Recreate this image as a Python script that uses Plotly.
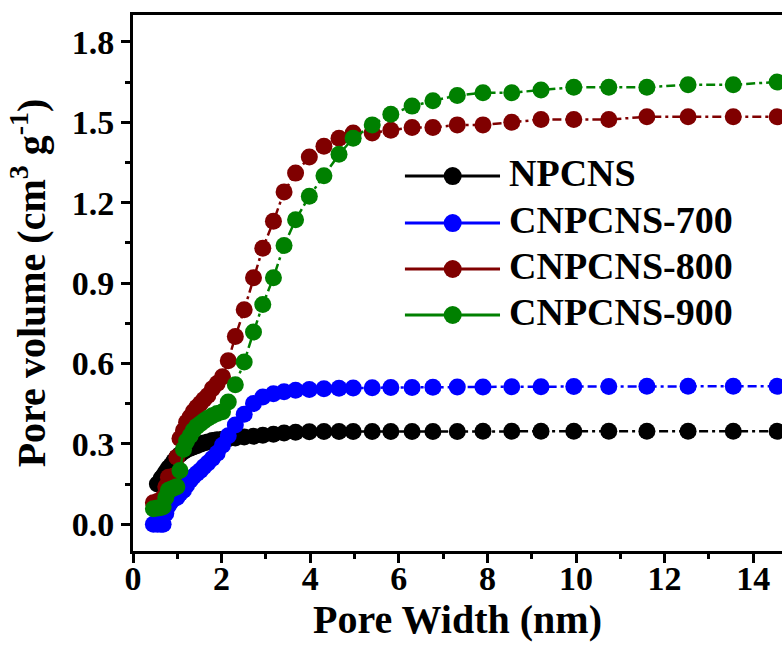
import plotly.graph_objects as go

# ---- data ----
pore_width = [0.46, 0.55, 0.63, 0.68, 0.74, 0.80, 0.86, 0.92, 0.99, 1.06, 1.14, 1.21,
              1.29, 1.36, 1.44, 1.52, 1.60, 1.69, 1.79, 1.90, 2.02, 2.15, 2.31, 2.51,
              2.72, 2.93, 3.17, 3.41, 3.67, 3.98, 4.31, 4.65, 4.97, 5.40, 5.82, 6.30,
              6.77, 7.32, 7.90, 8.55, 9.21, 9.95, 10.74, 11.60, 12.53, 13.55, 14.54]

npcns = [None, 0.15, 0.17, 0.18, 0.195, 0.21, 0.22, 0.235, 0.25, 0.26, 0.27, 0.278,
         0.283, 0.288, 0.293, 0.298, 0.303, 0.307, 0.312, 0.315, 0.317, 0.319, 0.322, 0.325,
         0.328, 0.332, 0.336, 0.340, 0.343, 0.345, 0.346, 0.346, 0.346, 0.346, 0.346, 0.346,
         0.346, 0.346, 0.347, 0.347, 0.347, 0.347, 0.347, 0.347, 0.347, 0.347, 0.347]

cnpcns_700 = [0.0, 0.0, 0.0, 0.0, 0.04, 0.07, 0.085, 0.095, 0.10, 0.115, 0.127, 0.145,
              0.164, 0.177, 0.189, 0.20, 0.214, 0.228, 0.245, 0.265, 0.295, 0.33, 0.37, 0.41,
              0.45, 0.475, 0.487, 0.494, 0.50, 0.503, 0.505, 0.507, 0.508, 0.509, 0.51, 0.51,
              0.511, 0.512, 0.512, 0.513, 0.513, 0.514, 0.514, 0.515, 0.515, 0.515, 0.515]

cnpcns_800 = [0.08, 0.085, 0.09, 0.10, 0.14, 0.175, 0.175, 0.18, 0.25, 0.32, 0.35, 0.38,
              0.40, 0.42, 0.436, 0.45, 0.465, 0.48, 0.505, 0.525, 0.55, 0.61, 0.70, 0.80,
              0.92, 1.03, 1.13, 1.24, 1.31, 1.37, 1.41, 1.44, 1.46, 1.46, 1.47, 1.48,
              1.48, 1.49, 1.49, 1.50, 1.51, 1.51, 1.51, 1.52, 1.52, 1.52, 1.52]

cnpcns_900 = [0.058, 0.06, 0.062, 0.065, 0.10, 0.127, 0.13, 0.135, 0.14, 0.20, 0.28, 0.31,
              0.33, 0.35, 0.365, 0.375, 0.385, 0.395, 0.405, 0.413, 0.42, 0.456, 0.52, 0.605,
              0.717, 0.82, 0.92, 1.04, 1.136, 1.224, 1.30, 1.38, 1.44, 1.49, 1.53, 1.56,
              1.58, 1.60, 1.61, 1.61, 1.62, 1.63, 1.63, 1.63, 1.64, 1.64, 1.65]

names = ["NPCNS", "CNPCNS-700", "CNPCNS-800", "CNPCNS-900"]
series = [npcns, cnpcns_700, cnpcns_800, cnpcns_900]
colors = ["#000000", "#0000FF", "#800000", "#008000"]

x_ticks = [0, 2, 4, 6, 8, 10, 12, 14]
y_ticks = [0.0, 0.3, 0.6, 0.9, 1.2, 1.5, 1.8]
y_tick_labels = ["0.0", "0.3", "0.6", "0.9", "1.2", "1.5", "1.8"]

FONT = "Liberation Serif, Times New Roman, serif"

fig = go.Figure()
for name, ys, col in zip(names, series, colors):
    fig.add_trace(go.Scatter(
        x=pore_width, y=ys, name=name, mode="lines+markers",
        line=dict(color=col, width=2.5, dash="9px,4px,3px,4px"),
        marker=dict(color=col, size=17, symbol="circle", line=dict(width=0)),
        showlegend=False, connectgaps=False,
    ))

# ---- legend drawn as a key (layout decorations) ----
L_x0, L_x1, L_xm, L_xt = 0.419, 0.5655, 0.4926, 0.5770
rows = [0.6996, 0.6119, 0.5261, 0.4403]
shapes = []
annotations = []
for name, col, ry in zip(names, colors, rows):
    shapes.append(dict(type="line", xref="paper", yref="paper", x0=L_x0, x1=L_x1,
                       y0=ry, y1=ry, line=dict(color=col, width=3)))
    shapes.append(dict(type="circle", xref="paper", yref="paper",
                       xsizemode="pixel", ysizemode="pixel",
                       xanchor=L_xm, yanchor=ry, x0=-9, x1=9, y0=-9, y1=9,
                       fillcolor=col, line=dict(width=0)))
    annotations.append(dict(xref="paper", yref="paper", x=L_xt, y=ry, text=name,
                            showarrow=False, xanchor="left", yanchor="middle",
                            yshift=3,
                            font=dict(family=FONT, size=38, color="black", weight="bold")))

axis_common = dict(
    showline=True, linecolor="black", linewidth=3,
    ticks="outside", tickcolor="black", tickwidth=2.5, ticklen=9,
    showgrid=False, zeroline=False,
    tickfont=dict(family=FONT, size=34, color="black", weight="bold"),
)

fig.update_layout(
    width=782, height=647,
    margin=dict(l=133, r=0, t=15, b=96),
    paper_bgcolor="white", plot_bgcolor="white",
    xaxis=dict(
        range=[0, 14.65], tickvals=x_ticks, mirror=True, automargin=False,
        ticklabelstandoff=-14,
        minor=dict(dtick=1, tick0=0, ticks="outside", ticklen=5, tickwidth=2.5, tickcolor="black"),
        title=dict(text="Pore Width (nm)", standoff=8,
                   font=dict(family=FONT, size=40, color="black", weight="bold")),
        **axis_common,
    ),
    yaxis=dict(
        range=[-0.1, 1.9], tickvals=y_ticks, ticktext=y_tick_labels, automargin=False,
        minor=dict(dtick=0.15, tick0=0, ticks="outside", ticklen=5, tickwidth=2.5, tickcolor="black"),
        title=dict(text="Pore volume (cm<sup>3</sup> g<sup>-1</sup>)", standoff=14,
                   font=dict(family=FONT, size=40, color="black", weight="bold")),
        **axis_common,
    ),
    shapes=shapes,
    annotations=annotations,
)

fig.write_html("out.html", config={"displayModeBar": False},
               post_script="document.body.style.margin='0';document.body.style.overflow='hidden';")
